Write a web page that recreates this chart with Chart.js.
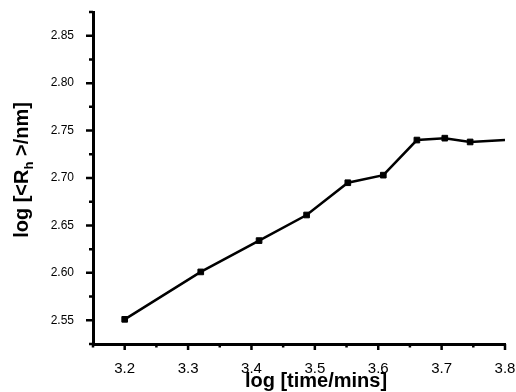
<!DOCTYPE html>
<html>
<head>
<meta charset="utf-8">
<script src="https://cdn.jsdelivr.net/npm/chart.js@4.4.1/dist/chart.umd.min.js"></script>
<style>
  html, body { margin: 0; padding: 0; background: #fff; }
  #wrap { width: 516px; height: 392px; position: relative; }
</style>
</head>
<body>
<div id="wrap"><canvas id="chart"></canvas></div>
<script>
// data
const xValues = [3.2, 3.32, 3.412, 3.487, 3.552, 3.608, 3.661, 3.705, 3.745, 3.8];
const yValues = [2.551, 2.601, 2.634, 2.661, 2.695, 2.703, 2.740, 2.742, 2.738, 2.740];
const markerSizes = [4, 4, 4, 4, 4, 4, 4, 4, 4, 0];

const xTicks = [3.2, 3.3, 3.4, 3.5, 3.6, 3.7, 3.8];
const xMinor = [3.15, 3.25, 3.35, 3.45, 3.55, 3.65, 3.75];
const yTicks = [2.55, 2.60, 2.65, 2.70, 2.75, 2.80, 2.85];
const yMinor = [2.525, 2.575, 2.625, 2.675, 2.725, 2.775, 2.825, 2.875];

const xTitle = 'log [time/mins]';
const yTitleParts = ['log [<R', 'h', ' >/nm]']; // middle part is subscript

const FONT = "'Liberation Sans', Arial, sans-serif";

// keep chart area fixed: no extra room for edge labels
function noPad(s) { s.paddingLeft = 0; s.paddingRight = 0; s.paddingTop = 0; s.paddingBottom = 0; }

// tick marks (major/minor, outward) and axis titles
const axisDecor = {
  id: 'axisDecor',
  afterDraw(chart) {
    const ctx = chart.ctx;
    const xs = chart.scales.x, ys = chart.scales.y;
    const area = chart.chartArea;
    ctx.save();
    ctx.strokeStyle = '#000';
    ctx.lineWidth = 2.5;
    ctx.beginPath();
    xTicks.forEach(v => { const px = xs.getPixelForValue(v); ctx.moveTo(px, area.bottom); ctx.lineTo(px, area.bottom + 6); });
    xMinor.forEach(v => { const px = xs.getPixelForValue(v); ctx.moveTo(px, area.bottom); ctx.lineTo(px, area.bottom + 3.5); });
    yTicks.forEach(v => { const py = ys.getPixelForValue(v); ctx.moveTo(area.left, py); ctx.lineTo(area.left - 7, py); });
    yMinor.forEach(v => { const py = ys.getPixelForValue(v); ctx.moveTo(area.left, py); ctx.lineTo(area.left - 4, py); });
    ctx.stroke();

    ctx.fillStyle = '#000';
    ctx.font = 'bold 20px ' + FONT;
    ctx.textAlign = 'center';
    ctx.textBaseline = 'alphabetic';
    ctx.fillText(xTitle, 316, 387);

    // y title, rotated, with subscript h
    ctx.translate(28, 170);
    ctx.rotate(-Math.PI / 2);
    const big = 'bold 20px ' + FONT, small = 'bold 13px ' + FONT;
    ctx.font = big;
    const w0 = ctx.measureText(yTitleParts[0]).width;
    const w2 = ctx.measureText(yTitleParts[2]).width;
    ctx.font = small;
    const w1 = ctx.measureText(yTitleParts[1]).width;
    let x = -(w0 + w1 + w2) / 2;
    ctx.textAlign = 'left';
    ctx.font = big;
    ctx.fillText(yTitleParts[0], x, 0); x += w0;
    ctx.font = small;
    ctx.fillText(yTitleParts[1], x, 5); x += w1;
    ctx.font = big;
    ctx.fillText(yTitleParts[2], x, 0);
    ctx.restore();
  }
};

const ctx = document.getElementById('chart').getContext('2d');
new Chart(ctx, {
  type: 'line',
  data: {
    datasets: [{
      data: xValues.map((x, i) => ({ x, y: yValues[i] })),
      borderColor: '#000',
      borderWidth: 2.5,
      backgroundColor: '#000',
      pointStyle: 'rect',
      pointRadius: markerSizes,
      pointBorderWidth: 1,
      pointBackgroundColor: '#000',
      pointBorderColor: '#000',
      tension: 0,
      fill: false
    }]
  },
  options: {
    responsive: true,
    maintainAspectRatio: false,
    animation: false,
    layout: { padding: { top: 12, right: 11, left: 0, bottom: 0 } },
    plugins: { legend: { display: false }, tooltip: { enabled: false } },
    scales: {
      x: {
        type: 'linear',
        min: 3.15, max: 3.8,
        afterBuildTicks: s => { s.ticks = xTicks.map(v => ({ value: v })); },
        afterFit: s => { s.height = 48; noPad(s); },
        grid: { display: false },
        border: { display: true, color: '#000', width: 3 },
        ticks: {
          callback: v => v.toFixed(1),
          color: '#000',
          font: { family: FONT, size: 15 },
          padding: 8,
          maxRotation: 0,
          autoSkip: false
        }
      },
      y: {
        type: 'linear',
        min: 2.525, max: 2.875,
        afterBuildTicks: s => { s.ticks = yTicks.map(v => ({ value: v })); },
        afterFit: s => { s.width = 93; noPad(s); },
        grid: { display: false },
        border: { display: true, color: '#000', width: 3 },
        ticks: {
          callback: v => v.toFixed(2),
          color: '#000',
          font: { family: FONT, size: 12 },
          padding: 11,
          autoSkip: false
        }
      }
    }
  },
  plugins: [axisDecor]
});
</script>
</body>
</html>
